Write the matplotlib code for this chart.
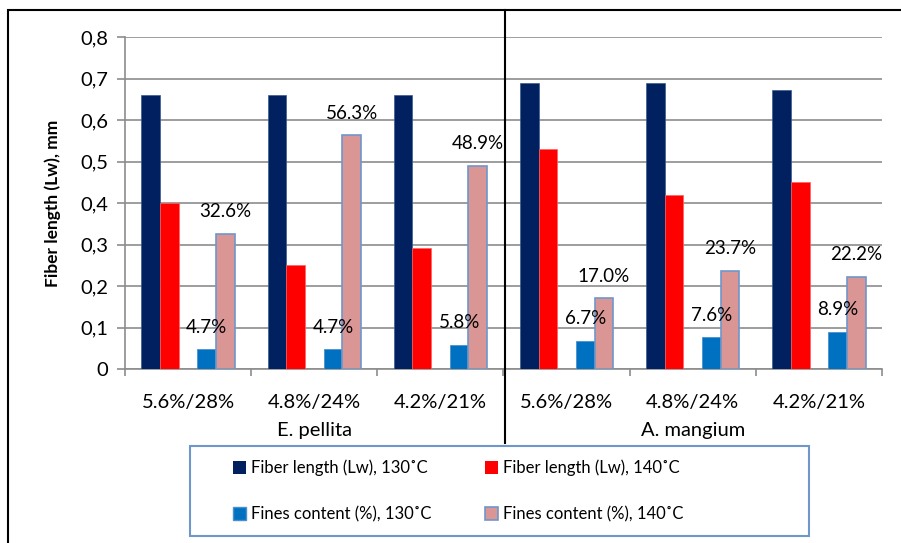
import numpy as np
import matplotlib
import matplotlib.pyplot as plt
from matplotlib.patches import Rectangle
from matplotlib.lines import Line2D
from matplotlib.ticker import FuncFormatter

matplotlib.rcParams['font.family'] = ['Lato', 'DejaVu Sans']

# 蒸煮條件與樹種
conditions = ["5.6%/28%", "4.8%/24%", "4.2%/21%", "5.6%/28%", "4.8%/24%", "4.2%/21%"]
species = ["E. pellita", "A. mangium"]

# 纖維長度 (mm)
lw_130 = [0.66, 0.66, 0.66, 0.69, 0.69, 0.672]
lw_140 = [0.40, 0.251, 0.291, 0.531, 0.419, 0.45]
# 細小纖維含量 (%)
fines_130 = [4.7, 4.7, 5.8, 6.7, 7.6, 8.9]
fines_140 = [32.6, 56.3, 48.9, 17.0, 23.7, 22.2]

C_NAVY = '#002060'
C_RED = '#FF0000'
C_BLUE = '#0070C0'
C_PINK = '#D99694'
C_EDGE = '#6F97CC'

fig = plt.figure(figsize=(9.01, 5.43), dpi=100)
ax = fig.add_axes([125 / 901, 1 - 369 / 543, 757 / 901, 332 / 543])

x = np.arange(len(conditions))
w = 0.148

ax.bar(x - 2 * w, lw_130, w, color=C_NAVY, edgecolor='#3a5a90', linewidth=0.5, zorder=3)
ax.bar(x - w, lw_140, w, color=C_RED, edgecolor='#ff6060', linewidth=0.5, zorder=3)
f130 = np.array(fines_130) / 100
f140 = np.array(fines_140) / 100
ax.bar(x + w, f130, w, color=C_BLUE, edgecolor='#4a90d0', linewidth=0.6, zorder=3)
ax.bar(x + 2 * w, f140, w, color=C_PINK, edgecolor=C_EDGE, linewidth=1.2, zorder=3)

for xi, v in zip(x + w, fines_130):
    ax.annotate(f"{v:.1f}%", (xi, v / 100), xytext=(0, 16), textcoords='offset points',
                ha='center', va='center', fontsize=13.5, zorder=5)
for xi, v in zip(x + 2 * w, fines_140):
    ax.annotate(f"{v:.1f}%", (xi, v / 100), xytext=(0, 16), textcoords='offset points',
                ha='center', va='center', fontsize=13.5, zorder=5)

ax.set_xlim(-0.5, 5.5)
ax.set_ylim(0, 0.8)
ax.set_yticks(np.arange(0, 0.81, 0.1))
ax.yaxis.set_major_formatter(FuncFormatter(lambda v, p: f"{v:.1f}".replace('.', ',') if v > 0 else "0"))
ax.grid(axis='y', color='#8c8c8c', linewidth=1.2, zorder=0)
ax.tick_params(axis='y', length=6, color='#8c8c8c', width=1.2, labelsize=14.5, pad=6)

ax.set_xticks(x)
ax.set_xticklabels(conditions)
ax.set_xticks(np.arange(-0.5, 5.6, 1), minor=True)
ax.tick_params(axis='x', which='major', length=0, labelsize=14.5, pad=18)
ax.tick_params(axis='x', which='minor', length=5, color='#8c8c8c', width=1.2)

for s in ['top', 'right']:
    ax.spines[s].set_visible(False)
for s in ['left', 'bottom']:
    ax.spines[s].set_color('#8c8c8c')
    ax.spines[s].set_linewidth(1.2)

ax.set_ylabel("Fiber length (Lw), mm", fontsize=12.5, fontweight='bold', labelpad=14)

# 樹種名稱
for i, name in enumerate(species):
    ax.text(1 + 3 * i, -0.148, name, ha='center', va='center', fontsize=14.5,
            transform=ax.transData)

# 外框與分隔線
fig.add_artist(Rectangle((8 / 901, -0.1), 1.2, 1 - 10 / 543 + 0.1, transform=fig.transFigure,
                         fill=False, edgecolor='black', linewidth=1.5))
fig.add_artist(Line2D([505 / 901, 505 / 901], [1 - 443 / 543, 1 - 10 / 543],
                      transform=fig.transFigure, color='black', linewidth=1.5))

# 圖例框
fig.add_artist(Rectangle((190 / 901, 1 - 536 / 543), 619 / 901, 90 / 543,
                         transform=fig.transFigure, facecolor='white',
                         edgecolor=C_EDGE, linewidth=1.5))
handles = [
    Rectangle((0, 0), 1, 1, facecolor=C_NAVY, edgecolor='none'),
    Rectangle((0, 0), 1, 1, facecolor=C_BLUE, edgecolor='#4a90d0'),
    Rectangle((0, 0), 1, 1, facecolor=C_RED, edgecolor='none'),
    Rectangle((0, 0), 1, 1, facecolor=C_PINK, edgecolor=C_EDGE, linewidth=1.2),
]
labels = ["Fiber length (Lw), 130˚C", "Fines content (%), 130˚C",
          "Fiber length (Lw), 140˚C", "Fines content (%), 140˚C"]
fig.legend(handles, labels, ncol=2, frameon=False, loc='center',
           bbox_to_anchor=(458 / 901, 1 - 491 / 543), fontsize=12,
           handlelength=0.8, handleheight=0.8, handletextpad=0.3,
           columnspacing=3.2, labelspacing=1.8)

fig.savefig("out.png", dpi=100)
